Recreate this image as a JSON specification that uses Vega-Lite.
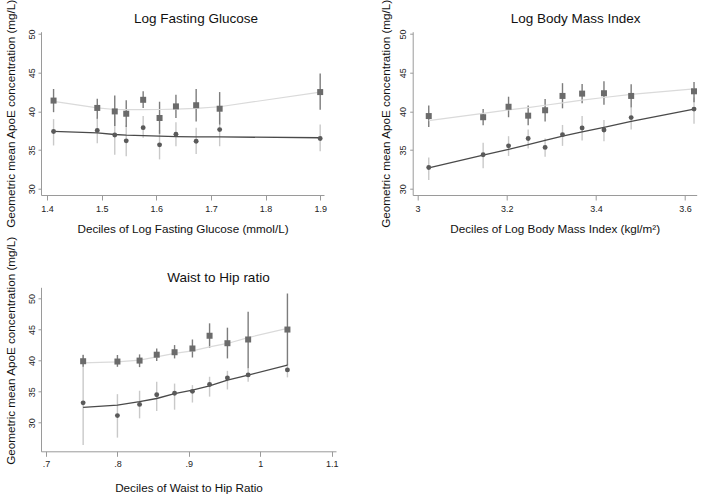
{
  "$schema": "https://vega.github.io/schema/vega-lite/v6.json",
  "autosize": {"type": "none"},
  "padding": {"left": 41, "top": 31.7, "right": 662, "bottom": 464.3},
  "background": "white",
  "columns": 2,
  "spacing": {"row": 91.6, "column": 76.7},
  "bounds": "flush",
  "config": {
    "view": {"stroke": null},
    "font": "Liberation Sans",
    "axis": {"grid": false, "domainColor": "#9a9a9a", "tickColor": "#9a9a9a", "labelColor": "#222222", "titleColor": "#111111", "labelFont": "Liberation Sans", "titleFont": "Liberation Sans", "titleFontWeight": "normal", "labelFontSize": 9, "titleFontSize": 11.7, "labelFlush": false, "labelOverlap": false},
    "title": {"font": "Liberation Sans", "fontSize": 13.5, "fontWeight": "normal", "color": "#111111", "anchor": "middle", "frame": "group"}
  },
  "datasets": {
    "p1": [
      {"x": 1.412, "g": "sq", "y": 41.4, "lo": 39.9, "hi": 42.9},
      {"x": 1.492, "g": "sq", "y": 40.45, "lo": 39.05, "hi": 41.65},
      {"x": 1.524, "g": "sq", "y": 40.0, "lo": 38.1, "hi": 42.05},
      {"x": 1.545, "g": "sq", "y": 39.7, "lo": 38.0, "hi": 41.45},
      {"x": 1.576, "g": "sq", "y": 41.5, "lo": 40.45, "hi": 42.6},
      {"x": 1.606, "g": "sq", "y": 39.15, "lo": 37.1, "hi": 41.25},
      {"x": 1.636, "g": "sq", "y": 40.65, "lo": 39.15, "hi": 42.15},
      {"x": 1.673, "g": "sq", "y": 40.8, "lo": 38.7, "hi": 42.9},
      {"x": 1.716, "g": "sq", "y": 40.35, "lo": 38.3, "hi": 42.5},
      {"x": 1.900, "g": "sq", "y": 42.5, "lo": 40.2, "hi": 44.9},
      {"x": 1.412, "g": "ci", "y": 37.4, "lo": 35.6, "hi": 39.0},
      {"x": 1.492, "g": "ci", "y": 37.55, "lo": 35.9, "hi": 39.2},
      {"x": 1.524, "g": "ci", "y": 36.95, "lo": 34.4, "hi": 39.5},
      {"x": 1.545, "g": "ci", "y": 36.2, "lo": 34.2, "hi": 38.2},
      {"x": 1.576, "g": "ci", "y": 37.9, "lo": 36.6, "hi": 39.4},
      {"x": 1.606, "g": "ci", "y": 35.68, "lo": 33.8, "hi": 37.6},
      {"x": 1.636, "g": "ci", "y": 37.05, "lo": 35.5, "hi": 38.6},
      {"x": 1.673, "g": "ci", "y": 36.15, "lo": 34.5, "hi": 37.9},
      {"x": 1.716, "g": "ci", "y": 37.65, "lo": 35.5, "hi": 39.8},
      {"x": 1.900, "g": "ci", "y": 36.5, "lo": 34.85, "hi": 38.3}
    ],
    "f1": [
      {"x": 1.412, "g": "sq", "fit": 41.3},
      {"x": 1.492, "g": "sq", "fit": 40.45},
      {"x": 1.524, "g": "sq", "fit": 40.25},
      {"x": 1.545, "g": "sq", "fit": 40.22},
      {"x": 1.576, "g": "sq", "fit": 40.22},
      {"x": 1.606, "g": "sq", "fit": 40.25},
      {"x": 1.636, "g": "sq", "fit": 40.3},
      {"x": 1.673, "g": "sq", "fit": 40.4},
      {"x": 1.716, "g": "sq", "fit": 40.6},
      {"x": 1.900, "g": "sq", "fit": 42.5},
      {"x": 1.412, "g": "ci", "fit": 37.43},
      {"x": 1.492, "g": "ci", "fit": 37.22},
      {"x": 1.524, "g": "ci", "fit": 37.02},
      {"x": 1.545, "g": "ci", "fit": 36.93},
      {"x": 1.576, "g": "ci", "fit": 36.88},
      {"x": 1.606, "g": "ci", "fit": 36.8},
      {"x": 1.636, "g": "ci", "fit": 36.75},
      {"x": 1.673, "g": "ci", "fit": 36.72},
      {"x": 1.716, "g": "ci", "fit": 36.7},
      {"x": 1.900, "g": "ci", "fit": 36.6}
    ],
    "p2": [
      {"x": 3.025, "g": "sq", "y": 39.4, "lo": 38.0, "hi": 40.75},
      {"x": 3.147, "g": "sq", "y": 39.25, "lo": 38.2, "hi": 40.3},
      {"x": 3.204, "g": "sq", "y": 40.6, "lo": 39.25, "hi": 41.9},
      {"x": 3.248, "g": "sq", "y": 39.45, "lo": 38.2, "hi": 40.75},
      {"x": 3.286, "g": "sq", "y": 40.15, "lo": 38.7, "hi": 41.6},
      {"x": 3.325, "g": "sq", "y": 42.0, "lo": 40.4, "hi": 43.65},
      {"x": 3.369, "g": "sq", "y": 42.3, "lo": 41.05, "hi": 43.55},
      {"x": 3.418, "g": "sq", "y": 42.35, "lo": 40.85, "hi": 43.9},
      {"x": 3.479, "g": "sq", "y": 42.0, "lo": 40.5, "hi": 43.5},
      {"x": 3.620, "g": "sq", "y": 42.6, "lo": 41.2, "hi": 43.8},
      {"x": 3.025, "g": "ci", "y": 32.75, "lo": 31.15, "hi": 34.05},
      {"x": 3.147, "g": "ci", "y": 34.4, "lo": 32.65, "hi": 35.95},
      {"x": 3.204, "g": "ci", "y": 35.55, "lo": 34.25, "hi": 36.8},
      {"x": 3.248, "g": "ci", "y": 36.5, "lo": 35.2, "hi": 37.65},
      {"x": 3.286, "g": "ci", "y": 35.35, "lo": 34.15, "hi": 36.5},
      {"x": 3.325, "g": "ci", "y": 37.0, "lo": 35.55, "hi": 38.25},
      {"x": 3.369, "g": "ci", "y": 37.85, "lo": 36.25, "hi": 39.4},
      {"x": 3.418, "g": "ci", "y": 37.6, "lo": 36.15, "hi": 38.9},
      {"x": 3.479, "g": "ci", "y": 39.2, "lo": 37.65, "hi": 40.5},
      {"x": 3.620, "g": "ci", "y": 40.3, "lo": 38.4, "hi": 41.8}
    ],
    "f2": [
      {"x": 3.025, "g": "sq", "fit": 38.8},
      {"x": 3.147, "g": "sq", "fit": 39.75},
      {"x": 3.204, "g": "sq", "fit": 40.2},
      {"x": 3.248, "g": "sq", "fit": 40.5},
      {"x": 3.286, "g": "sq", "fit": 40.8},
      {"x": 3.325, "g": "sq", "fit": 41.1},
      {"x": 3.369, "g": "sq", "fit": 41.45},
      {"x": 3.418, "g": "sq", "fit": 41.8},
      {"x": 3.479, "g": "sq", "fit": 42.2},
      {"x": 3.620, "g": "sq", "fit": 42.9},
      {"x": 3.025, "g": "ci", "fit": 32.7},
      {"x": 3.147, "g": "ci", "fit": 34.35},
      {"x": 3.204, "g": "ci", "fit": 35.1},
      {"x": 3.248, "g": "ci", "fit": 35.7},
      {"x": 3.286, "g": "ci", "fit": 36.25},
      {"x": 3.325, "g": "ci", "fit": 36.8},
      {"x": 3.369, "g": "ci", "fit": 37.35},
      {"x": 3.418, "g": "ci", "fit": 37.95},
      {"x": 3.479, "g": "ci", "fit": 38.7},
      {"x": 3.620, "g": "ci", "fit": 40.3}
    ],
    "p3": [
      {"x": 0.752, "g": "sq", "y": 39.9, "lo": 39.0, "hi": 40.9},
      {"x": 0.800, "g": "sq", "y": 39.85, "lo": 39.0, "hi": 40.9},
      {"x": 0.831, "g": "sq", "y": 40.0, "lo": 38.95, "hi": 41.0},
      {"x": 0.855, "g": "sq", "y": 40.95, "lo": 39.95, "hi": 41.95},
      {"x": 0.880, "g": "sq", "y": 41.35, "lo": 40.35, "hi": 42.5},
      {"x": 0.905, "g": "sq", "y": 41.95, "lo": 40.5, "hi": 43.4},
      {"x": 0.929, "g": "sq", "y": 44.0, "lo": 42.05, "hi": 46.0},
      {"x": 0.954, "g": "sq", "y": 42.8, "lo": 40.35, "hi": 45.3},
      {"x": 0.983, "g": "sq", "y": 43.4, "lo": 38.75, "hi": 47.85},
      {"x": 1.038, "g": "sq", "y": 45.0, "lo": 39.25, "hi": 50.8},
      {"x": 0.752, "g": "ci", "y": 33.2, "lo": 26.4, "hi": 41.0},
      {"x": 0.800, "g": "ci", "y": 31.15, "lo": 27.6, "hi": 34.6},
      {"x": 0.831, "g": "ci", "y": 32.95, "lo": 30.7, "hi": 35.15},
      {"x": 0.855, "g": "ci", "y": 34.5, "lo": 31.9, "hi": 36.6},
      {"x": 0.880, "g": "ci", "y": 34.75, "lo": 32.1, "hi": 36.3},
      {"x": 0.905, "g": "ci", "y": 35.05, "lo": 33.25, "hi": 36.05},
      {"x": 0.929, "g": "ci", "y": 36.15, "lo": 34.2, "hi": 37.4},
      {"x": 0.954, "g": "ci", "y": 37.2, "lo": 35.35, "hi": 38.35},
      {"x": 0.983, "g": "ci", "y": 37.7, "lo": 36.6, "hi": 38.75},
      {"x": 1.038, "g": "ci", "y": 38.5, "lo": 37.3, "hi": 39.5}
    ],
    "f3": [
      {"x": 0.752, "g": "sq", "fit": 39.65},
      {"x": 0.800, "g": "sq", "fit": 39.8},
      {"x": 0.831, "g": "sq", "fit": 40.07},
      {"x": 0.855, "g": "sq", "fit": 40.6},
      {"x": 0.880, "g": "sq", "fit": 41.15},
      {"x": 0.905, "g": "sq", "fit": 41.58},
      {"x": 0.929, "g": "sq", "fit": 42.2},
      {"x": 0.954, "g": "sq", "fit": 42.76},
      {"x": 0.983, "g": "sq", "fit": 43.7},
      {"x": 1.038, "g": "sq", "fit": 45.2},
      {"x": 0.752, "g": "ci", "fit": 32.47},
      {"x": 0.800, "g": "ci", "fit": 32.84},
      {"x": 0.831, "g": "ci", "fit": 33.38},
      {"x": 0.855, "g": "ci", "fit": 33.9},
      {"x": 0.880, "g": "ci", "fit": 34.7},
      {"x": 0.905, "g": "ci", "fit": 35.25},
      {"x": 0.929, "g": "ci", "fit": 35.95},
      {"x": 0.954, "g": "ci", "fit": 36.86},
      {"x": 0.983, "g": "ci", "fit": 37.67},
      {"x": 1.038, "g": "ci", "fit": 39.28}
    ]
  },
  "concat": [
    {
      "width": 283,
      "height": 163.3,
      "title": {"text": "Log Fasting Glucose", "dx": 13.5, "dy": 35, "offset": 7},
      "encoding": {
        "x": {"field": "x", "type": "quantitative", "scale": {"domain": [1.389, 1.907], "nice": false, "zero": false},
          "axis": {"values": [1.4, 1.5, 1.6, 1.7, 1.8, 1.9], "format": "~g", "title": "Deciles of Log Fasting Glucose (mmol/L)", "tickSize": 5, "labelPadding": 4, "titlePadding": 10}}
      },
      "layer": [
        {"data": {"name": "p1"}, "transform": [{"filter": "datum.g == 'ci'"}], "mark": {"type": "rule", "color": "#c9c9c9", "strokeWidth": 1.4},
          "encoding": {"y": {"field": "lo", "type": "quantitative", "scale": {"domain": [29.2, 50.3], "nice": false, "zero": false}, "axis": {"values": [30, 35, 40, 45, 50], "title": "Geometric mean ApoE concentration  (mg/L)", "labelAngle": 270, "labelAlign": "center", "labelBaseline": "bottom", "tickSize": 3, "labelPadding": 2, "titlePadding": 11}}, "y2": {"field": "hi"}}},
        {"data": {"name": "p1"}, "transform": [{"filter": "datum.g == 'sq'"}], "mark": {"type": "rule", "color": "#7c7c7c", "strokeWidth": 1.4},
          "encoding": {"y": {"field": "lo", "type": "quantitative", "scale": {"domain": [29.2, 50.3], "nice": false, "zero": false}, "axis": {"values": [30, 35, 40, 45, 50], "title": "Geometric mean ApoE concentration  (mg/L)", "labelAngle": 270, "labelAlign": "center", "labelBaseline": "bottom", "tickSize": 3, "labelPadding": 2, "titlePadding": 11}}, "y2": {"field": "hi"}}},
        {"data": {"name": "f1"}, "transform": [{"filter": "datum.g == 'sq'"}], "mark": {"type": "line", "color": "#dadada", "strokeWidth": 1.2},
          "encoding": {"y": {"field": "fit", "type": "quantitative", "scale": {"domain": [29.2, 50.3], "nice": false, "zero": false}, "axis": {"values": [30, 35, 40, 45, 50], "title": "Geometric mean ApoE concentration  (mg/L)", "labelAngle": 270, "labelAlign": "center", "labelBaseline": "bottom", "tickSize": 3, "labelPadding": 2, "titlePadding": 11}}}},
        {"data": {"name": "f1"}, "transform": [{"filter": "datum.g == 'ci'"}], "mark": {"type": "line", "color": "#4a4a4a", "strokeWidth": 1.3},
          "encoding": {"y": {"field": "fit", "type": "quantitative", "scale": {"domain": [29.2, 50.3], "nice": false, "zero": false}, "axis": {"values": [30, 35, 40, 45, 50], "title": "Geometric mean ApoE concentration  (mg/L)", "labelAngle": 270, "labelAlign": "center", "labelBaseline": "bottom", "tickSize": 3, "labelPadding": 2, "titlePadding": 11}}}},
        {"data": {"name": "p1"}, "transform": [{"filter": "datum.g == 'sq'"}], "mark": {"type": "square", "filled": true, "size": 36, "color": "#6b6b6b", "opacity": 1},
          "encoding": {"y": {"field": "y", "type": "quantitative", "scale": {"domain": [29.2, 50.3], "nice": false, "zero": false}, "axis": {"values": [30, 35, 40, 45, 50], "title": "Geometric mean ApoE concentration  (mg/L)", "labelAngle": 270, "labelAlign": "center", "labelBaseline": "bottom", "tickSize": 3, "labelPadding": 2, "titlePadding": 11}}}},
        {"data": {"name": "p1"}, "transform": [{"filter": "datum.g == 'ci'"}], "mark": {"type": "circle", "size": 24, "color": "#5a5a5a", "opacity": 1},
          "encoding": {"y": {"field": "y", "type": "quantitative", "scale": {"domain": [29.2, 50.3], "nice": false, "zero": false}, "axis": {"values": [30, 35, 40, 45, 50], "title": "Geometric mean ApoE concentration  (mg/L)", "labelAngle": 270, "labelAlign": "center", "labelBaseline": "bottom", "tickSize": 3, "labelPadding": 2, "titlePadding": 11}}}}
      ]
    },
    {
      "width": 284,
      "height": 163.3,
      "title": {"text": "Log Body Mass Index", "dx": 21, "dy": 35, "offset": 7},
      "encoding": {
        "x": {"field": "x", "type": "quantitative", "scale": {"domain": [2.989, 3.626], "nice": false, "zero": false},
          "axis": {"values": [3, 3.2, 3.4, 3.6], "format": "~g", "title": "Deciles of Log Body Mass Index (kgl/m²)", "tickSize": 5, "labelPadding": 4, "titlePadding": 10}}
      },
      "layer": [
        {"data": {"name": "p2"}, "transform": [{"filter": "datum.g == 'ci'"}], "mark": {"type": "rule", "color": "#c9c9c9", "strokeWidth": 1.4},
          "encoding": {"y": {"field": "lo", "type": "quantitative", "scale": {"domain": [29.2, 50.3], "nice": false, "zero": false}, "axis": {"values": [30, 35, 40, 45, 50], "title": "Geometric mean ApoE concentration  (mg/L)", "labelAngle": 270, "labelAlign": "center", "labelBaseline": "bottom", "tickSize": 3, "labelPadding": 2, "titlePadding": 7}}, "y2": {"field": "hi"}}},
        {"data": {"name": "p2"}, "transform": [{"filter": "datum.g == 'sq'"}], "mark": {"type": "rule", "color": "#7c7c7c", "strokeWidth": 1.4},
          "encoding": {"y": {"field": "lo", "type": "quantitative", "scale": {"domain": [29.2, 50.3], "nice": false, "zero": false}, "axis": {"values": [30, 35, 40, 45, 50], "title": "Geometric mean ApoE concentration  (mg/L)", "labelAngle": 270, "labelAlign": "center", "labelBaseline": "bottom", "tickSize": 3, "labelPadding": 2, "titlePadding": 7}}, "y2": {"field": "hi"}}},
        {"data": {"name": "f2"}, "transform": [{"filter": "datum.g == 'sq'"}], "mark": {"type": "line", "color": "#dadada", "strokeWidth": 1.2},
          "encoding": {"y": {"field": "fit", "type": "quantitative", "scale": {"domain": [29.2, 50.3], "nice": false, "zero": false}, "axis": {"values": [30, 35, 40, 45, 50], "title": "Geometric mean ApoE concentration  (mg/L)", "labelAngle": 270, "labelAlign": "center", "labelBaseline": "bottom", "tickSize": 3, "labelPadding": 2, "titlePadding": 7}}}},
        {"data": {"name": "f2"}, "transform": [{"filter": "datum.g == 'ci'"}], "mark": {"type": "line", "color": "#4a4a4a", "strokeWidth": 1.3},
          "encoding": {"y": {"field": "fit", "type": "quantitative", "scale": {"domain": [29.2, 50.3], "nice": false, "zero": false}, "axis": {"values": [30, 35, 40, 45, 50], "title": "Geometric mean ApoE concentration  (mg/L)", "labelAngle": 270, "labelAlign": "center", "labelBaseline": "bottom", "tickSize": 3, "labelPadding": 2, "titlePadding": 7}}}},
        {"data": {"name": "p2"}, "transform": [{"filter": "datum.g == 'sq'"}], "mark": {"type": "square", "filled": true, "size": 36, "color": "#6b6b6b", "opacity": 1},
          "encoding": {"y": {"field": "y", "type": "quantitative", "scale": {"domain": [29.2, 50.3], "nice": false, "zero": false}, "axis": {"values": [30, 35, 40, 45, 50], "title": "Geometric mean ApoE concentration  (mg/L)", "labelAngle": 270, "labelAlign": "center", "labelBaseline": "bottom", "tickSize": 3, "labelPadding": 2, "titlePadding": 7}}}},
        {"data": {"name": "p2"}, "transform": [{"filter": "datum.g == 'ci'"}], "mark": {"type": "circle", "size": 24, "color": "#5a5a5a", "opacity": 1},
          "encoding": {"y": {"field": "y", "type": "quantitative", "scale": {"domain": [29.2, 50.3], "nice": false, "zero": false}, "axis": {"values": [30, 35, 40, 45, 50], "title": "Geometric mean ApoE concentration  (mg/L)", "labelAngle": 270, "labelAlign": "center", "labelBaseline": "bottom", "tickSize": 3, "labelPadding": 2, "titlePadding": 7}}}}
      ]
    },
    {
      "width": 295,
      "height": 164,
      "title": {"text": "Waist to Hip ratio", "dx": 30, "dy": 54, "offset": 4},
      "encoding": {
        "x": {"field": "x", "type": "quantitative", "scale": {"domain": [0.693, 1.106], "nice": false, "zero": false},
          "axis": {"values": [0.7, 0.8, 0.9, 1, 1.1], "format": "~g", "labelExpr": "replace(datum.label, /^0\\./, '.')", "title": "Deciles of Waist to Hip Ratio", "tickSize": 5, "labelPadding": 3, "titlePadding": 14}}
      },
      "layer": [
        {"data": {"name": "p3"}, "transform": [{"filter": "datum.g == 'ci'"}], "mark": {"type": "rule", "color": "#c9c9c9", "strokeWidth": 1.4},
          "encoding": {"y": {"field": "lo", "type": "quantitative", "scale": {"domain": [25.4, 51.8], "nice": false, "zero": false}, "axis": {"values": [30, 35, 40, 45, 50], "title": "Geometric mean ApoE concentration  (mg/L)", "titleY": 63, "labelAngle": 270, "labelAlign": "center", "labelBaseline": "bottom", "tickSize": 3, "labelPadding": 2, "titlePadding": 11}}, "y2": {"field": "hi"}}},
        {"data": {"name": "p3"}, "transform": [{"filter": "datum.g == 'sq'"}], "mark": {"type": "rule", "color": "#7c7c7c", "strokeWidth": 1.4},
          "encoding": {"y": {"field": "lo", "type": "quantitative", "scale": {"domain": [25.4, 51.8], "nice": false, "zero": false}, "axis": {"values": [30, 35, 40, 45, 50], "title": "Geometric mean ApoE concentration  (mg/L)", "titleY": 63, "labelAngle": 270, "labelAlign": "center", "labelBaseline": "bottom", "tickSize": 3, "labelPadding": 2, "titlePadding": 11}}, "y2": {"field": "hi"}}},
        {"data": {"name": "f3"}, "transform": [{"filter": "datum.g == 'sq'"}], "mark": {"type": "line", "color": "#dadada", "strokeWidth": 1.2},
          "encoding": {"y": {"field": "fit", "type": "quantitative", "scale": {"domain": [25.4, 51.8], "nice": false, "zero": false}, "axis": {"values": [30, 35, 40, 45, 50], "title": "Geometric mean ApoE concentration  (mg/L)", "titleY": 63, "labelAngle": 270, "labelAlign": "center", "labelBaseline": "bottom", "tickSize": 3, "labelPadding": 2, "titlePadding": 11}}}},
        {"data": {"name": "f3"}, "transform": [{"filter": "datum.g == 'ci'"}], "mark": {"type": "line", "color": "#4a4a4a", "strokeWidth": 1.3},
          "encoding": {"y": {"field": "fit", "type": "quantitative", "scale": {"domain": [25.4, 51.8], "nice": false, "zero": false}, "axis": {"values": [30, 35, 40, 45, 50], "title": "Geometric mean ApoE concentration  (mg/L)", "titleY": 63, "labelAngle": 270, "labelAlign": "center", "labelBaseline": "bottom", "tickSize": 3, "labelPadding": 2, "titlePadding": 11}}}},
        {"data": {"name": "p3"}, "transform": [{"filter": "datum.g == 'sq'"}], "mark": {"type": "square", "filled": true, "size": 36, "color": "#6b6b6b", "opacity": 1},
          "encoding": {"y": {"field": "y", "type": "quantitative", "scale": {"domain": [25.4, 51.8], "nice": false, "zero": false}, "axis": {"values": [30, 35, 40, 45, 50], "title": "Geometric mean ApoE concentration  (mg/L)", "titleY": 63, "labelAngle": 270, "labelAlign": "center", "labelBaseline": "bottom", "tickSize": 3, "labelPadding": 2, "titlePadding": 11}}}},
        {"data": {"name": "p3"}, "transform": [{"filter": "datum.g == 'ci'"}], "mark": {"type": "circle", "size": 24, "color": "#5a5a5a", "opacity": 1},
          "encoding": {"y": {"field": "y", "type": "quantitative", "scale": {"domain": [25.4, 51.8], "nice": false, "zero": false}, "axis": {"values": [30, 35, 40, 45, 50], "title": "Geometric mean ApoE concentration  (mg/L)", "titleY": 63, "labelAngle": 270, "labelAlign": "center", "labelBaseline": "bottom", "tickSize": 3, "labelPadding": 2, "titlePadding": 11}}}}
      ]
    }
  ]
}
